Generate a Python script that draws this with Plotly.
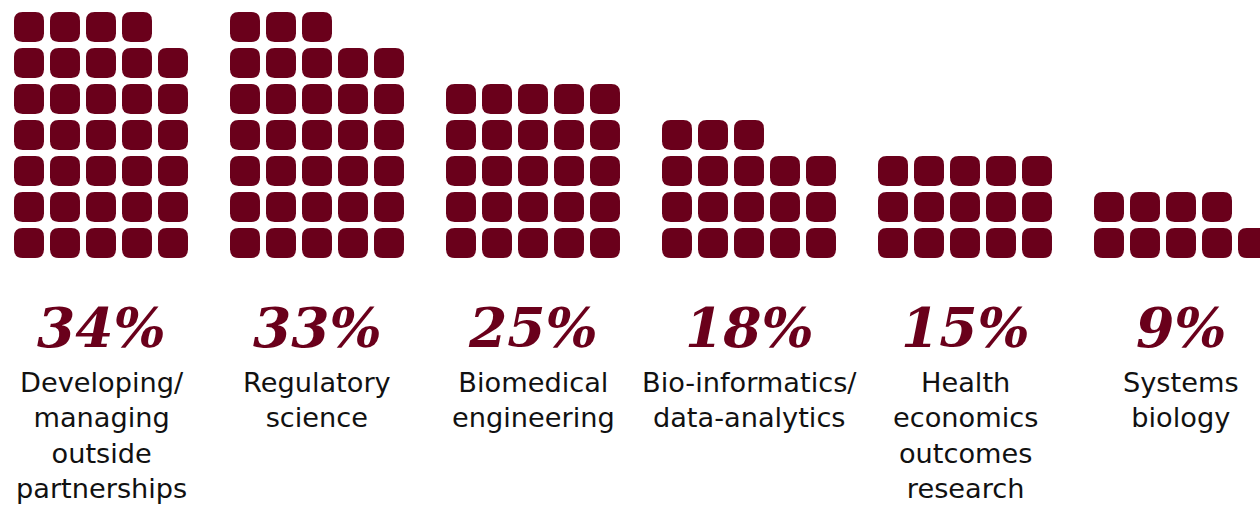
import plotly.graph_objects as go

# Share of respondents per skill area (one rounded tile per percentage point)
categories = [
    "Developing/<br>managing<br>outside<br>partnerships",
    "Regulatory<br>science",
    "Biomedical<br>engineering",
    "Bio-informatics/<br>data-analytics",
    "Health<br>economics<br>outcomes<br>research",
    "Systems<br>biology",
]
values = [34, 33, 25, 18, 15, 9]
value_labels = ["34%", "33%", "25%", "18%", "15%", "9%"]

MAROON = "#6a001b"
COLS = 5            # tiles per row
GROUP_STEP = 6      # horizontal distance between groups, in tile pitches
X0 = 0.389          # left offset of the first tile
TILE = 0.833        # tile size relative to the pitch
RADIUS = 0.24       # corner radius


def rounded_rect(x0, y0, s, r):
    x1, y1 = x0 + s, y0 + s
    return (
        f"M {x0 + r},{y0} L {x1 - r},{y0} Q {x1},{y0} {x1},{y0 + r} "
        f"L {x1},{y1 - r} Q {x1},{y1} {x1 - r},{y1} "
        f"L {x0 + r},{y1} Q {x0},{y1} {x0},{y1 - r} "
        f"L {x0},{y0 + r} Q {x0},{y0} {x0 + r},{y0} Z"
    )


fig = go.Figure()
shapes = []
annotations = []

for g, (cat, val, lab) in enumerate(zip(categories, values, value_labels)):
    gx = g * GROUP_STEP + X0
    for i in range(val):
        row, col = divmod(i, COLS)
        shapes.append(dict(
            type="path", xref="x", yref="y",
            path=rounded_rect(gx + col, row, TILE, RADIUS),
            fillcolor=MAROON, line=dict(width=0), layer="above",
        ))
    cx = gx + (COLS - 1 + TILE) / 2
    annotations.append(dict(
        x=cx, y=-1.92, xref="x", yref="y", text=f"<b><i>{lab}</i></b>",
        showarrow=False, xanchor="center", yanchor="middle",
        font=dict(family="DejaVu Serif", size=55, color=MAROON),
    ))
    annotations.append(dict(
        x=cx, y=-2.98, xref="x", yref="y", text=cat,
        showarrow=False, xanchor="center", yanchor="top", align="center",
        font=dict(family="DejaVu Sans", size=27.2, color="#111111"),
    ))

# invisible trace so the axes are laid out
fig.add_trace(go.Scatter(x=[0], y=[0], mode="markers",
                         marker=dict(opacity=0), hoverinfo="skip", showlegend=False))

fig.update_layout(
    width=1260, height=507,
    margin=dict(l=0, r=0, t=0, b=0),
    paper_bgcolor="white", plot_bgcolor="white",
    shapes=shapes, annotations=annotations,
    xaxis=dict(range=[0, 35], visible=False, fixedrange=True),
    yaxis=dict(range=[-6.917, 7.167], visible=False, fixedrange=True),
    showlegend=False,
)

fig.write_html("out.html")
